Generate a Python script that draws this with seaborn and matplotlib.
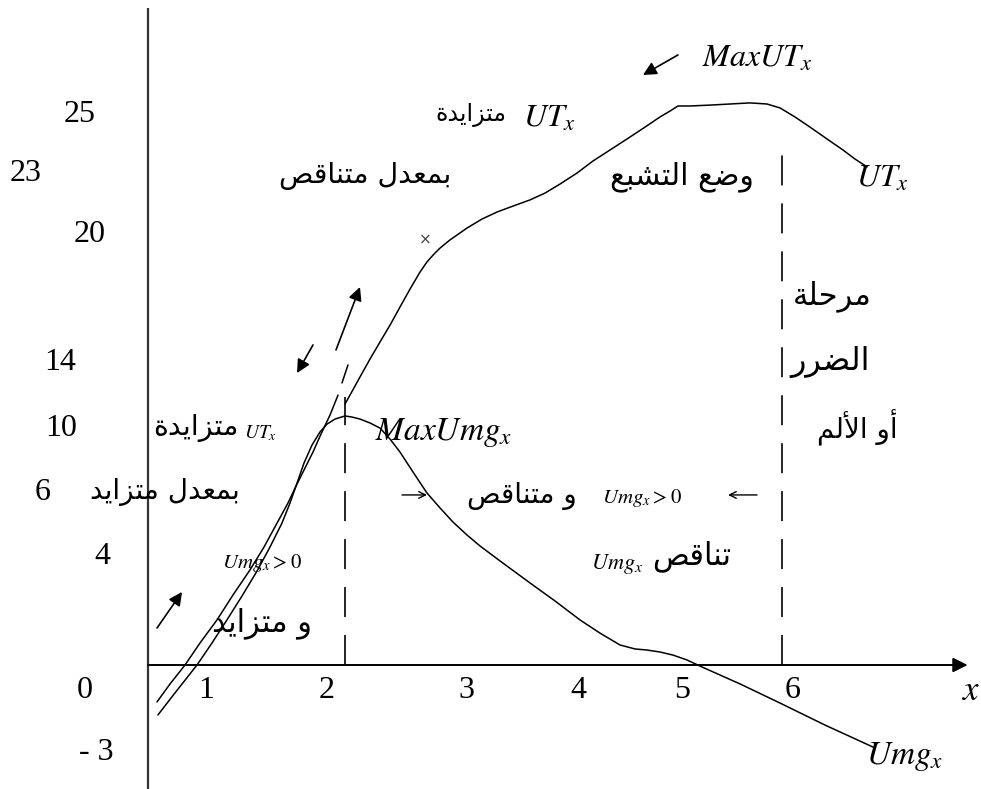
import matplotlib
matplotlib.use("Agg")
import matplotlib.pyplot as plt
import seaborn as sns
import pandas as pd

# ---------------------------------------------------------------- data
# total utility: lower convex branch (tangent) and upper branch
ut_low_x = [0.084, 0.206, 0.346, 0.486, 0.645, 0.794, 0.953, 1.084, 1.206,
            1.308, 1.393, 1.467, 1.542, 1.617, 1.701, 1.776]
ut_low_y = [-1.68, -0.86, 0.00, 1.00, 2.05, 3.18, 4.32, 5.36, 6.45,
            7.36, 8.23, 8.95, 9.68, 10.50, 11.36, 12.27]

ut_x = [1.841, 1.888, 1.981, 2.075, 2.168, 2.262, 2.355, 2.449, 2.542, 2.607,
        2.673, 2.729, 2.822, 2.981, 3.121, 3.262, 3.411, 3.570, 3.710, 3.850,
        4.009, 4.159, 4.318, 4.477, 4.645, 4.785, 4.879, 4.953, 5.065, 5.252,
        5.439, 5.626, 5.785, 5.907, 6.047, 6.187, 6.346, 6.495, 6.607, 6.720]
ut_y = [11.86, 12.27, 13.09, 13.91, 14.68, 15.45, 16.27, 17.09, 17.86, 18.32,
        18.68, 18.95, 19.32, 19.86, 20.27, 20.59, 20.86, 21.14, 21.45, 21.86,
        22.36, 22.91, 23.41, 23.91, 24.45, 24.91, 25.18, 25.41, 25.41, 25.45,
        25.50, 25.55, 25.50, 25.32, 24.91, 24.45, 23.91, 23.41, 23.00, 22.64]

# marginal utility
umg_x = [0.093, 0.252, 0.458, 0.598, 0.738, 0.879, 1.019, 1.140, 1.252, 1.327,
         1.393, 1.458, 1.533, 1.607, 1.673, 1.748, 1.841, 1.907, 1.981, 2.075,
         2.168, 2.262, 2.355, 2.477, 2.607, 2.729, 2.850, 2.981, 3.103, 3.290,
         3.570, 3.804, 4.037, 4.224, 4.411, 4.551, 4.664, 4.785, 4.907, 5.037,
         5.159, 5.533, 5.907, 6.327, 6.776]
umg_y = [-2.27, -1.27, 0.00, 1.00, 2.05, 3.14, 4.27, 5.36, 6.45, 7.36,
         8.27, 9.18, 10.00, 10.59, 10.95, 11.18, 11.32, 11.27, 11.18, 11.00,
         10.77, 10.27, 9.68, 8.77, 7.82, 7.14, 6.50, 5.91, 5.41, 4.73,
         3.73, 2.91, 2.05, 1.45, 0.91, 0.73, 0.68, 0.59, 0.45, 0.23,
         -0.05, -0.86, -1.73, -2.73, -3.73]

max_umg_x = 1.841
max_umg_y = 12.18
harm_x = 5.925
harm_y = 23.64

y_tick_labels = ["25", "23", "20", "14", "10", "6", "4", "0", "- 3"]
y_tick_pos = [(-0.636, 25.0), (-1.140, 22.32), (-0.542, 19.55), (-0.822, 13.73),
              (-0.813, 10.77), (-0.981, 7.82), (-0.430, 4.91), (-0.589, -1.14),
              (-0.486, -4.0)]
x_tick_labels = ["1", "2", "3", "4", "5", "6"]
x_tick_pos = [0.542, 1.673, 2.972, 4.019, 4.991, 6.028]

# ---------------------------------------------------------------- arabic shaping
FORMS = {
    'ا': ('\uFE8D', '\uFE8E', None, None),
    'أ': ('\uFE83', '\uFE84', None, None),
    'ب': ('\uFE8F', '\uFE90', '\uFE91', '\uFE92'),
    'ة': ('\uFE93', '\uFE94', None, None),
    'ت': ('\uFE95', '\uFE96', '\uFE97', '\uFE98'),
    'ح': ('\uFEA1', '\uFEA2', '\uFEA3', '\uFEA4'),
    'د': ('\uFEA9', '\uFEAA', None, None),
    'ر': ('\uFEAD', '\uFEAE', None, None),
    'ز': ('\uFEAF', '\uFEB0', None, None),
    'ش': ('\uFEB5', '\uFEB6', '\uFEB7', '\uFEB8'),
    'ص': ('\uFEB9', '\uFEBA', '\uFEBB', '\uFEBC'),
    'ض': ('\uFEBD', '\uFEBE', '\uFEBF', '\uFEC0'),
    'ع': ('\uFEC9', '\uFECA', '\uFECB', '\uFECC'),
    'ق': ('\uFED5', '\uFED6', '\uFED7', '\uFED8'),
    'ل': ('\uFEDD', '\uFEDE', '\uFEDF', '\uFEE0'),
    'م': ('\uFEE1', '\uFEE2', '\uFEE3', '\uFEE4'),
    'ن': ('\uFEE5', '\uFEE6', '\uFEE7', '\uFEE8'),
    'و': ('\uFEED', '\uFEEE', None, None),
    'ي': ('\uFEF1', '\uFEF2', '\uFEF3', '\uFEF4'),
}
LAM_ALEF = {'ا': ('\uFEFB', '\uFEFC'), 'أ': ('\uFEF7', '\uFEF8')}


def shape(text):
    """Contextual letter forms + right-to-left order for matplotlib."""
    tokens = []
    i = 0
    while i < len(text):
        c = text[i]
        if c == 'ل' and i + 1 < len(text) and text[i + 1] in LAM_ALEF:
            tokens.append(('LA', text[i + 1]))
            i += 2
        else:
            tokens.append((c, None))
            i += 1

    def joining(t):
        return t[0] == 'LA' or t[0] in FORMS

    def dual(t):
        return t[0] in FORMS and FORMS[t[0]][2] is not None

    out = []
    for k, t in enumerate(tokens):
        if not joining(t):
            out.append(t[0])
            continue
        prev = tokens[k - 1] if k > 0 else None
        nxt = tokens[k + 1] if k + 1 < len(tokens) else None
        jp = prev is not None and dual(prev)
        if t[0] == 'LA':
            iso, fin = LAM_ALEF[t[1]]
            out.append(fin if jp else iso)
            continue
        f = FORMS[t[0]]
        jn = nxt is not None and f[2] is not None and joining(nxt)
        if jp and jn:
            out.append(f[3])
        elif jp:
            out.append(f[1])
        elif jn:
            out.append(f[2])
        else:
            out.append(f[0])
    return ''.join(reversed(out))


# ---------------------------------------------------------------- figure
sns.set_theme(style="white")
plt.rcParams['mathtext.fontset'] = 'stix'
plt.rcParams['font.family'] = ['DejaVu Sans']

fig = plt.figure(figsize=(9.81, 7.89), dpi=100)
ax = fig.add_axes([0, 0, 1, 1])
ax.set_xlim(-148 / 107, 833 / 107)
ax.set_ylim(-124 / 22, 665 / 22)
ax.axis('off')

K = 'black'
curve_lw = 1.1

# axes of the diagram
ax.plot([0, 0], [-5.64, 29.86], color='#333333', lw=1.6, solid_capstyle='butt')
ax.annotate('', xy=(7.66, 0), xytext=(0, 0),
            arrowprops=dict(arrowstyle='-|>', color=K, lw=1.4,
                            mutation_scale=22, shrinkA=0, shrinkB=0))

# curves
df_low = pd.DataFrame({'x': ut_low_x, 'y': ut_low_y})
df_ut = pd.DataFrame({'x': ut_x, 'y': ut_y})
df_umg = pd.DataFrame({'x': umg_x, 'y': umg_y})
for d in (df_low, df_ut, df_umg):
    sns.lineplot(data=d, x='x', y='y', sort=False, color=K, lw=curve_lw,
                 ax=ax, legend=False)

# dashed tangent continuation of the lower branch
ax.plot([1.813, 1.869], [12.82, 13.64], color=K, lw=curve_lw)

# vertical dashed guides
dash = (0, (30 / 1.39 / 1.2, 18 / 1.39 / 1.2))
ax.plot([max_umg_x, max_umg_x], [0, max_umg_y], color=K, lw=1.2, linestyle=dash)
ax.plot([harm_x, harm_x], [0, harm_y], color=K, lw=1.2, linestyle=dash)


# arrows
def filled_arrow(tail, tip, scale=20):
    ax.annotate('', xy=tip, xytext=tail,
                arrowprops=dict(arrowstyle='-|>', color=K, lw=1.2,
                                mutation_scale=scale, shrinkA=0, shrinkB=0))


def thin_arrow(tail, tip):
    ax.annotate('', xy=tip, xytext=tail,
                arrowprops=dict(arrowstyle='->', color=K, lw=1.0,
                                mutation_scale=12, shrinkA=0, shrinkB=0))


filled_arrow((4.953, 27.73), (4.626, 26.82))
filled_arrow((1.542, 14.55), (1.393, 13.27))
filled_arrow((1.757, 14.32), (1.981, 17.18))
filled_arrow((0.084, 1.68), (0.318, 3.32))
thin_arrow((2.374, 7.73), (2.607, 7.73))
thin_arrow((5.692, 7.73), (5.421, 7.73))

ax.text(2.589, 19.32, '×', color='#444444', fontsize=11, ha='center', va='center')

# tick labels
num_font = dict(family='Liberation Serif', fontsize=23, color=K,
                ha='center', va='center')
for lab, (px, py) in zip(y_tick_labels, y_tick_pos):
    ax.text(px, py, lab, **num_font)
for lab, px in zip(x_tick_labels, x_tick_pos):
    ax.text(px, -1.14, lab, **num_font)
ax.text(7.692, -1.14, r'$x$', fontsize=25, ha='center', va='center', color=K)


# math labels
def mtext(x, y, s, size):
    ax.text(x, y, s, fontsize=size, ha='center', va='center', color=K)


mtext(5.692, 27.59, r'$MaxUT_x$', 23)
mtext(3.748, 24.86, r'$UT_x$', 23)
mtext(6.860, 22.14, r'$UT_x$', 23)
mtext(2.766, 10.59, r'$MaxUmg_x$', 24)
mtext(1.056, 10.55, r'$UT_x$', 14)
mtext(4.617, 7.59, r'$Umg_x > 0$', 15)
mtext(4.383, 4.59, r'$Umg_x$', 16)
mtext(1.065, 4.64, r'$Umg_x > 0$', 15)
mtext(7.075, -4.18, r'$Umg_x$', 24)

# arabic annotations
arabic_labels = [
    ('متزايدة', 3.019, 25.00, 17),
    ('بمعدل متناقص', 2.028, 22.23, 20.5),
    ('وضع التشبع', 4.991, 22.18, 21.5),
    ('مرحلة', 6.393, 16.77, 22),
    ('الضرر', 6.374, 13.77, 23),
    ('أو الألم', 6.626, 10.77, 20),
    ('متزايدة', 0.449, 10.77, 20.5),
    ('بمعدل متزايد', 0.159, 7.86, 20),
    ('و متناقص', 3.495, 7.68, 20),
    ('تناقص', 5.084, 4.95, 22),
    ('و متزايد', 1.065, 1.91, 22),
]
for s, x, y, size in arabic_labels:
    ax.text(x, y, shape(s), fontsize=size, ha='center', va='center', color=K,
            family='DejaVu Sans')

fig.savefig('out.png', dpi=100)
